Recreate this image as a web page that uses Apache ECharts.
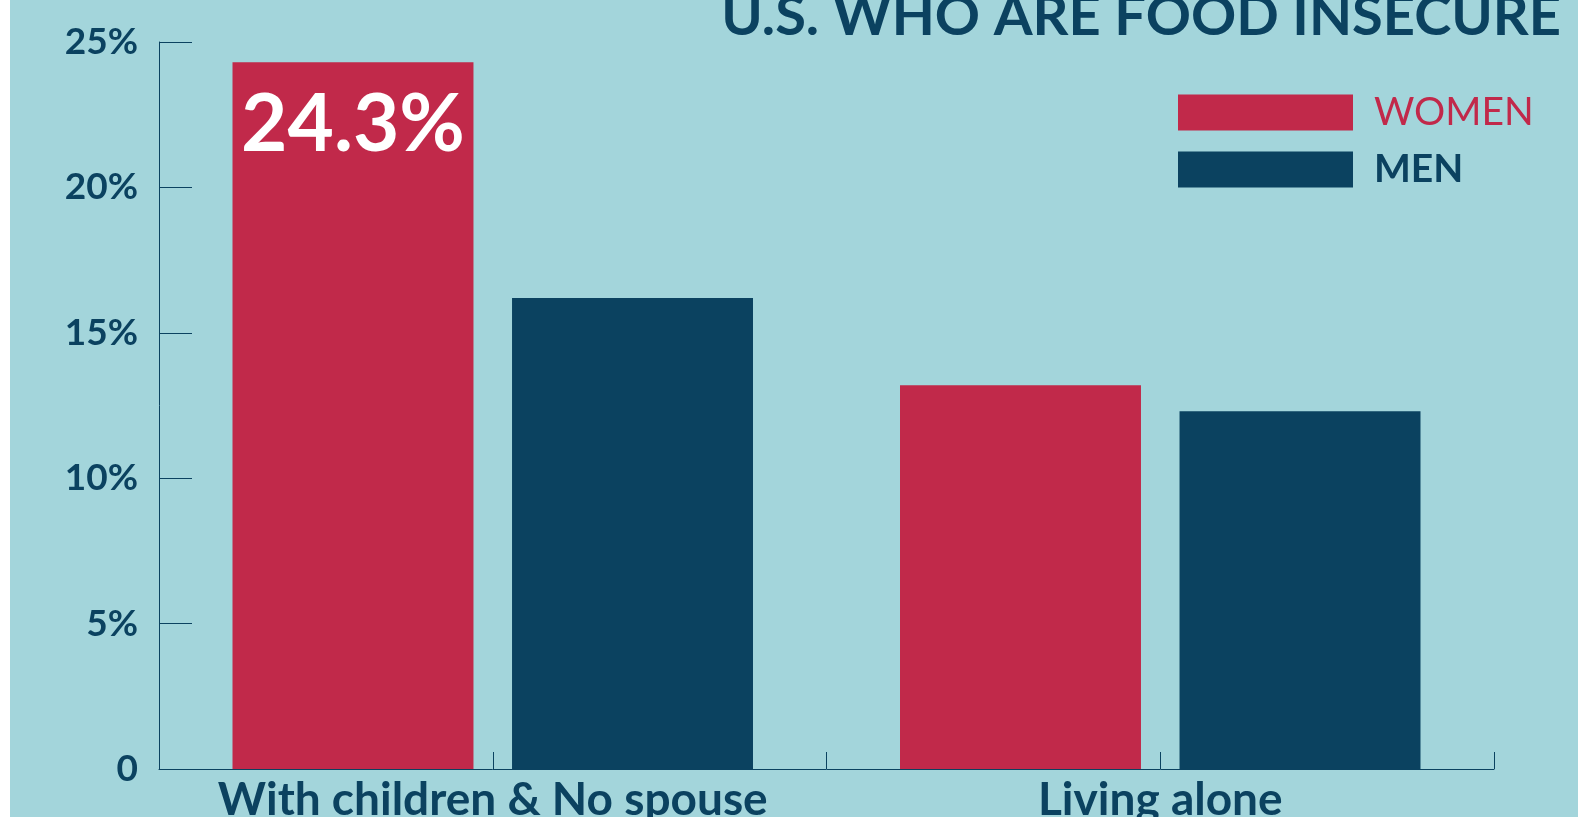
<!DOCTYPE html>
<html>
<head>
<meta charset="utf-8">
<script src="https://cdn.jsdelivr.net/npm/echarts@6/dist/echarts.min.js"></script>
<style>
  html, body { margin: 0; padding: 0; background: #fff; }
  #chart { width: 1578px; height: 817px; }
</style>
</head>
<body>
<div id="chart"></div>
<script>
var categories = ['With children & No spouse', 'Living alone'];
var women = [24.3, 13.2];
var men = [16.2, 12.3];
var tickSlots = ['', '', '', ''];

var RED = '#C1294A';
var DARK = '#0B4260';
var FONT = 'Lato';

var chart = echarts.init(document.getElementById('chart'));

var option = {
    backgroundColor: '#A3D5DB',
    title: {
        text: 'U.S. WHO ARE FOOD INSECURE',
        right: 12,
        top: -16,
        textStyle: {
            color: DARK,
            fontFamily: FONT,
            fontWeight: 'bold',
            fontSize: 56
        }
    },
    legend: {
        orient: 'vertical',
        left: 1178,
        top: 93,
        padding: 0,
        itemWidth: 175,
        itemHeight: 36,
        itemGap: 18,
        icon: 'rect',
        data: [
            { name: 'WOMEN', textStyle: { color: RED, fontWeight: 'normal' } },
            { name: 'MEN', textStyle: { color: DARK } }
        ],
        textStyle: {
            fontFamily: FONT,
            fontWeight: 'bold',
            fontSize: 39,
            padding: [0, 0, 0, 16]
        }
    },
    graphic: [{
        type: 'rect',
        left: 0, top: 0,
        shape: { width: 10, height: 817 },
        style: { fill: '#fff' }
    }],
    grid: { left: 159, right: 84, top: 42, bottom: 48, outerBoundsMode: 'none', containLabel: false },
    xAxis: [
        {
            type: 'category',
            data: categories,
            position: 'bottom',
            axisLine: { lineStyle: { color: DARK, width: 1 } },
            axisTick: { show: false },
            axisLabel: {
                interval: 0,
                color: DARK,
                fontFamily: FONT,
                fontWeight: 'bold',
                fontSize: 46,
                margin: 8
            }
        },
        {
            type: 'category',
            data: tickSlots,
            position: 'bottom',
            axisLine: { show: false },
            axisTick: { show: true, inside: true, length: 17, lineStyle: { color: DARK, width: 1 } },
            axisLabel: { show: false }
        }
    ],
    yAxis: {
        type: 'value',
        min: 0,
        max: 25,
        interval: 5,
        axisLine: { show: true, lineStyle: { color: DARK, width: 1 } },
        axisTick: { show: true, inside: true, length: 33, lineStyle: { color: DARK, width: 1 } },
        splitLine: { show: false },
        axisLabel: {
            color: DARK,
            fontFamily: FONT,
            fontWeight: 'bold',
            fontSize: 37,
            margin: 21,
            formatter: function (v) { return v === 0 ? '0' : v + '%'; }
        }
    },
    series: [
        {
            name: 'WOMEN',
            type: 'bar',
            barWidth: '36.1%',
            barGap: '16%',
            itemStyle: { color: RED },
            data: women.map(function (v, i) {
                if (i === 0) {
                    return {
                        value: v,
                        label: {
                            show: true,
                            position: 'insideTop',
                            distance: 23,
                            color: '#fff',
                            fontFamily: FONT,
                            fontWeight: 'bold',
                            fontSize: 80,
                            formatter: '{c}%'
                        }
                    };
                }
                return v;
            })
        },
        {
            name: 'MEN',
            type: 'bar',
            barWidth: '36.1%',
            itemStyle: { color: DARK },
            data: men
        }
    ]
};

chart.setOption(option);
</script>
</body>
</html>
